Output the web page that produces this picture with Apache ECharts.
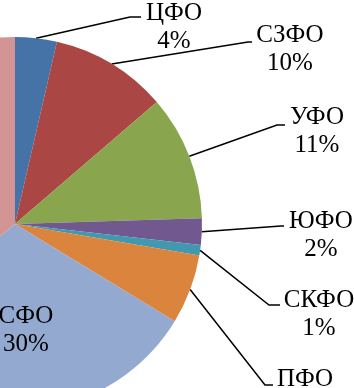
<!DOCTYPE html>
<html><head><meta charset="utf-8">
<script src="https://cdn.jsdelivr.net/npm/echarts@6/dist/echarts.min.js"></script>
<style>html,body{margin:0;padding:0;background:#fff}#c{width:354px;height:388px}</style>
</head><body><div id="c"></div>
<script>
const categories = ['ЦФО','СЗФО','УФО','ЮФО','СКФО','ПФО','СФО','ДФО'];
const shares = [3.6, 10.1, 10.8, 2.3, 0.9, 6.0, 30.4, 35.9];
const colors = ['#4572A7','#AA4643','#89A54E','#71588F','#4198AF','#DB843D','#93A9CF','#D39593'];

// label placement (layout only)
const labelLayoutCfg = {
  'ЦФО':  {x:174, y:27,  bend:[130,17], end:[141,17]},
  'СЗФО': {x:290, y:49,  bend:[248,42], end:[252,42]},
  'УФО':  {x:317, y:131, bend:[277,125], end:[285,125]},
  'ЮФО':  {x:321, y:235, bend:[281,226], end:[284,226]},
  'СКФО': {x:319, y:314, bend:[269,305], end:[280,305]},
  'ПФО':  {x:305, y:393, bend:[265,385], end:[273,385]},
  'СФО':  {x:26,  y:330}
};

const chart = echarts.init(document.getElementById('c'), null, {renderer:'canvas'});
const data = categories.map((n,i)=>{
  const d = {name:n, value:shares[i], itemStyle:{color:colors[i]}};
  if (n === 'СФО') { d.label = {position:'inside'}; d.labelLine = {show:false}; }
  if (n === 'ДФО') { d.label = {show:false}; d.labelLine = {show:false}; }
  return d;
});
chart.setOption({
  animation:false,
  series:[{
    type:'pie',
    center:[15,224],
    radius:187,
    startAngle:90,
    clockwise:true,
    avoidLabelOverlap:false,
    data:data,
    itemStyle:{borderWidth:0},
    emphasis:{disabled:true},
    label:{
      show:true,
      position:'outside',
      formatter:p=>p.name+'\n'+Math.round(p.percent)+'%',
      fontFamily:'Liberation Serif',
      fontSize:25,
      lineHeight:28,
      color:'#000',
      align:'center'
    },
    labelLine:{show:true, length:20, length2:10, lineStyle:{color:'#000', width:1.5}},
    labelLayout:function(params){
      const name = categories[params.dataIndex];
      const cfg = labelLayoutCfg[name];
      if (!cfg) return {};
      const out = {x:cfg.x, y:cfg.y, align:'center', verticalAlign:'middle'};
      if (cfg.bend && params.labelLinePoints) {
        out.labelLinePoints = [params.labelLinePoints[0], cfg.bend, cfg.end];
      }
      return out;
    }
  }]
});
</script></body></html>
